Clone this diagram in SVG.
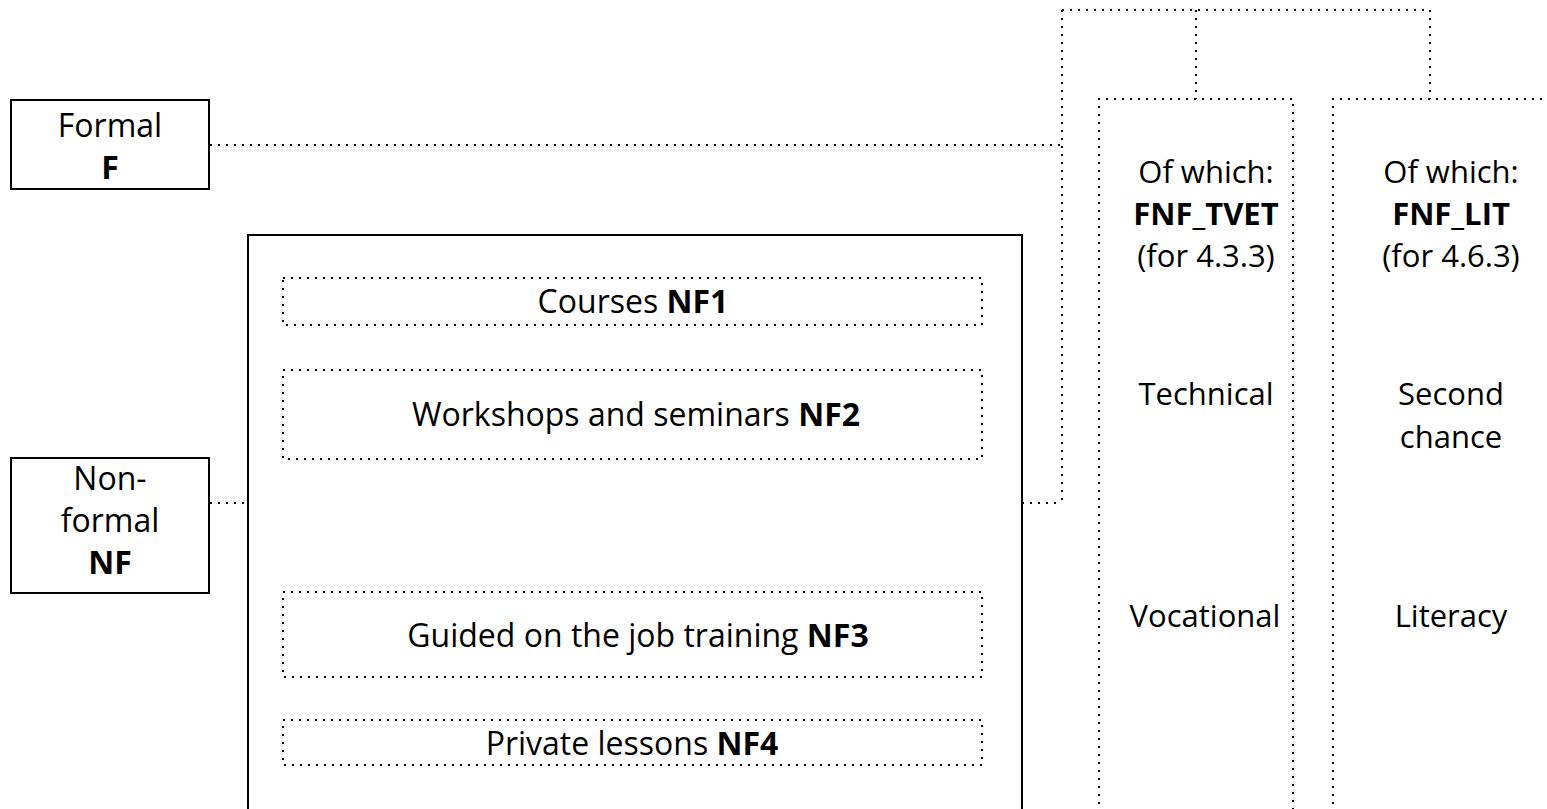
<svg xmlns="http://www.w3.org/2000/svg" width="1547" height="809" viewBox="0 0 1547 809">
<style>
text{font-family:"Open Sans","Noto Sans",sans-serif;font-size:32px;fill:#000;text-anchor:middle}
.c text{font-size:31px}
.b{font-weight:bold}
.solid{fill:none;stroke:#000;stroke-width:2}
.dot{fill:none;stroke:#000;stroke-width:2;stroke-dasharray:2 6}
</style>
<rect width="1547" height="809" fill="#fff"/>
<g id="connectors">
<path class="dot" d="M210,145 H1062"/>
<path class="dot" d="M1062,10 V503"/>
<path class="dot" d="M1022,503 H1062"/>
<path class="dot" d="M210,503 H248"/>
<path class="dot" d="M1062,10 H1430"/>
<path class="dot" d="M1196,10 V99"/>
<path class="dot" d="M1430,10 V99"/>
</g>
<g id="formal">
<rect class="solid" x="11" y="100" width="198" height="89"/>
<text x="110" y="137">Formal</text>
<text class="b" x="110" y="179">F</text>
</g>
<g id="nonformal">
<rect class="solid" x="11" y="458" width="198" height="135"/>
<text x="110" y="490">Non-</text>
<text x="110" y="532">formal</text>
<text class="b" x="110" y="574">NF</text>
</g>
<g id="nf-container">
<rect class="solid" x="248" y="235" width="774" height="600"/>
</g>
<g id="nf1">
<rect class="dot" x="283" y="278" width="699" height="47"/>
<text x="633" y="313">Courses <tspan class="b">NF1</tspan></text>
</g>
<g id="nf2">
<rect class="dot" x="283" y="370" width="699" height="89"/>
<text x="636" y="426">Workshops and seminars <tspan class="b">NF2</tspan></text>
</g>
<g id="nf3">
<rect class="dot" x="283" y="592" width="699" height="85"/>
<text x="638" y="647">Guided on the job training <tspan class="b">NF3</tspan></text>
</g>
<g id="nf4">
<rect class="dot" x="283" y="720" width="699" height="45"/>
<text x="632" y="755">Private lessons <tspan class="b">NF4</tspan></text>
</g>
<g id="fnf-tvet" class="c">
<path class="dot" d="M1099,820 V99 H1293 V820"/>
<text x="1206" y="183">Of which:</text>
<text class="b" x="1206" y="225">FNF_TVET</text>
<text x="1206" y="267">(for 4.3.3)</text>
<text x="1206" y="405">Technical</text>
<text x="1205" y="627">Vocational</text>
</g>
<g id="fnf-lit" class="c">
<path class="dot" d="M1333,820 V99 H1547"/>
<text x="1451" y="183">Of which:</text>
<text class="b" x="1451" y="225">FNF_LIT</text>
<text x="1451" y="267">(for 4.6.3)</text>
<text x="1451" y="405">Second</text>
<text x="1451" y="448">chance</text>
<text x="1451" y="627">Literacy</text>
</g>
</svg>
